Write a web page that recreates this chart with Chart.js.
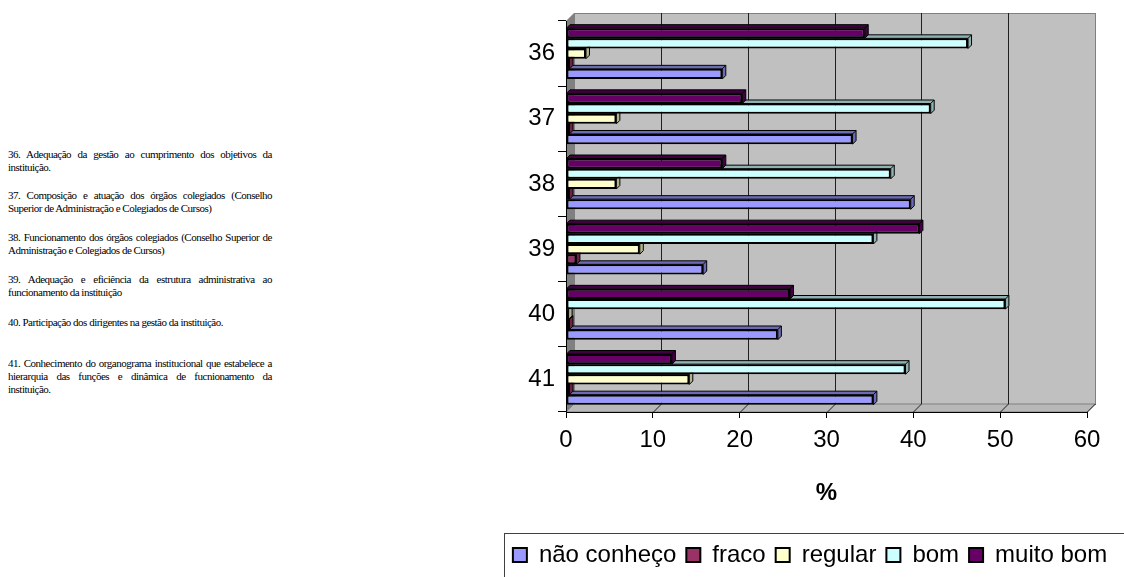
<!DOCTYPE html>
<html>
<head>
<meta charset="utf-8">
<script src="https://cdn.jsdelivr.net/npm/chart.js@4"></script>
<style>
  body { margin: 0; width: 1124px; height: 577px; overflow: hidden; background: #fff; position: relative; }
  .q { position: absolute; left: 8px; width: 264px; font: 11px/13px "Liberation Serif", serif; letter-spacing: -0.5px; color: #000; }
  .q span { display: block; white-space: nowrap; text-align: justify; text-align-last: justify; }
  .q span.l { text-align-last: left; }
  #wrap { position: absolute; left: 470px; top: 0; }
</style>
</head>
<body>
<div class="q" style="top:148px"><span>36. Adequação da gestão ao cumprimento dos objetivos da</span><span class="l">instituição.</span></div>
<div class="q" style="top:189px"><span>37. Composição e atuação dos órgãos colegiados (Conselho</span><span class="l">Superior de Administração e Colegiados de Cursos)</span></div>
<div class="q" style="top:231px"><span>38. Funcionamento dos órgãos colegiados (Conselho Superior de</span><span class="l">Administração e Colegiados de Cursos)</span></div>
<div class="q" style="top:273px"><span>39. Adequação e eficiência da estrutura administrativa ao</span><span class="l">funcionamento da instituição</span></div>
<div class="q" style="top:316px"><span class="l">40. Participação dos dirigentes na gestão da instituição.</span></div>
<div class="q" style="top:357px"><span>41. Conhecimento do organograma institucional que estabelece a</span><span>hierarquia das funções e dinâmica de fucnionamento da</span><span class="l">instituição.</span></div>

<div id="wrap"><canvas id="c" width="680" height="577"></canvas></div>

<script>
const categories = ["36", "37", "38", "39", "40", "41"];
const naoConheco = [18.0, 33.0, 39.7, 15.8, 24.4, 35.4];
const fraco = [0.4, 0.4, 0.4, 1.2, 0.4, 0.4];
const regular = [2.3, 5.8, 5.8, 8.5, 0.3, 14.2];
const bom = [46.3, 42.0, 37.4, 35.4, 50.6, 39.1];
const muitoBom = [34.4, 20.3, 18.0, 40.7, 25.8, 12.2];
const xMax = 60;
const xStep = 10;

const depth = 8;   // wall depth
const barDepth = 3.5;
const font = "Liberation Sans, Arial, sans-serif";

// walls, floor and back gridlines
const walls = {
  id: "walls",
  beforeDraw(chart) {
    const { ctx, chartArea: a, scales } = chart;
    const d = depth;
    ctx.save();
    ctx.fillStyle = "#c0c0c0";
    ctx.strokeStyle = "#808080";
    ctx.lineWidth = 1;
    ctx.fillRect(a.left + d, a.top - d, a.right - a.left, a.bottom - a.top);
    ctx.strokeRect(a.left + d + 0.5, a.top - d + 0.5, a.right - a.left, a.bottom - a.top);
    // left wall
    ctx.fillStyle = "#808080";
    ctx.beginPath();
    ctx.moveTo(a.left, a.top);
    ctx.lineTo(a.left + d, a.top - d);
    ctx.lineTo(a.left + d, a.bottom - d);
    ctx.lineTo(a.left, a.bottom);
    ctx.closePath();
    ctx.fill();
    // floor
    ctx.fillStyle = "#b8b8b8";
    ctx.beginPath();
    ctx.moveTo(a.left, a.bottom);
    ctx.lineTo(a.left + d, a.bottom - d);
    ctx.lineTo(a.right + d, a.bottom - d);
    ctx.lineTo(a.right, a.bottom);
    ctx.closePath();
    ctx.fill();
    ctx.strokeStyle = "#808080";
    ctx.stroke();
    // gridlines
    ctx.strokeStyle = "#202020";
    scales.x.ticks.forEach(t => {
      if (t.value === 0) return;
      const px = Math.round(scales.x.getPixelForValue(t.value)) + 0.5;
      ctx.beginPath();
      if (t.value < xMax) {
        ctx.moveTo(px + d, a.top - d);
        ctx.lineTo(px + d, a.bottom - d);
      }
      ctx.moveTo(px + d, a.bottom - d);
      ctx.lineTo(px, a.bottom);
      ctx.stroke();
    });
    ctx.restore();
  }
};

// 3D faces of each bar
const bars3d = {
  id: "bars3d",
  afterDatasetDraw(chart, args) {
    const { ctx } = chart;
    const ds = chart.data.datasets[args.index];
    const d = barDepth;
    ctx.save();
    ctx.lineWidth = 1;
    ctx.strokeStyle = "#000";
    ctx.fillStyle = ds.sideColor;
    args.meta.data.forEach(bar => {
      const { x, y, base, height } = bar.getProps(["x", "y", "base", "height"], true);
      const top = y - height / 2;
      const bottom = y + height / 2;
      ctx.beginPath();
      ctx.moveTo(base, top);
      ctx.lineTo(base + d, top - d);
      ctx.lineTo(x + d, top - d);
      ctx.lineTo(x + d, bottom - d);
      ctx.lineTo(x, bottom);
      ctx.lineTo(x, top);
      ctx.closePath();
      ctx.fill();
      ctx.stroke();
      ctx.beginPath();
      ctx.moveTo(x, top);
      ctx.lineTo(x + d, top - d);
      ctx.stroke();
    });
    ctx.restore();
  }
};

// frame round the legend
const legendFrame = {
  id: "legendFrame",
  afterDraw(chart) {
    const boxes = chart.legend.legendHitBoxes;
    if (!boxes || !boxes.length) return;
    const { ctx } = chart;
    const left = Math.min(...boxes.map(b => b.left)) - 9;
    const mid = boxes[0].top + boxes[0].height / 2;
    ctx.save();
    ctx.strokeStyle = "#404040";
    ctx.lineWidth = 1;
    ctx.strokeRect(Math.round(left) + 0.5, Math.round(mid - 22) + 0.5, 800, 100);
    ctx.restore();
  }
};

function series(label, data, color, side) {
  return {
    label, data,
    backgroundColor: color,
    sideColor: side,
    borderColor: "#000",
    borderWidth: 2,
    borderSkipped: false,
    categoryPercentage: 0.78,
    barPercentage: 1.0
  };
}

new Chart(document.getElementById("c"), {
  type: "bar",
  data: {
    labels: categories,
    datasets: [
      series("muito bom", muitoBom, "#660066", "#420042"),
      series("bom", bom, "#ccffff", "#8fb3b3"),
      series("regular", regular, "#ffffcc", "#b3b38f"),
      series("fraco", fraco, "#993366", "#6b2447"),
      series("não conheço", naoConheco, "#9999ff", "#6b6bb3")
    ]
  },
  options: {
    indexAxis: "y",
    responsive: false,
    animation: false,
    devicePixelRatio: 1,
    layout: { padding: { left: 0, right: 0, top: 21, bottom: 0 } },
    scales: {
      x: {
        min: 0,
        max: xMax,
        ticks: { stepSize: xStep, color: "#000", font: { family: font, size: 24 }, padding: 8 },
        grid: { drawOnChartArea: false, tickLength: 6, color: "#000" },
        border: { color: "#000" },
        title: {
          display: true,
          text: "%",
          color: "#000",
          font: { family: font, size: 24, weight: "bold" },
          padding: { top: 0, bottom: 25 }
        },
        afterFit(s) { s.height = 121; }
      },
      y: {
        ticks: { color: "#000", font: { family: font, size: 24 }, padding: 3 },
        grid: { drawOnChartArea: false, tickLength: 8, color: "#000", offset: true },
        border: { color: "#000" },
        afterFit(s) { s.width = 96; }
      },
      // empty spacer on the right so the legend can use the full width
      spacer: {
        type: "linear",
        axis: "y",
        position: "right",
        display: true,
        ticks: { display: false },
        grid: { display: false },
        border: { display: false },
        afterFit(s) { s.width = 63; }
      }
    },
    plugins: {
      legend: {
        position: "bottom",
        reverse: true,
        labels: {
          color: "#000",
          font: { family: font, size: 24 },
          boxWidth: 14,
          boxHeight: 14,
          padding: 10
        }
      },
      tooltip: { enabled: false }
    }
  },
  plugins: [walls, bars3d, legendFrame]
});
</script>
</body>
</html>
